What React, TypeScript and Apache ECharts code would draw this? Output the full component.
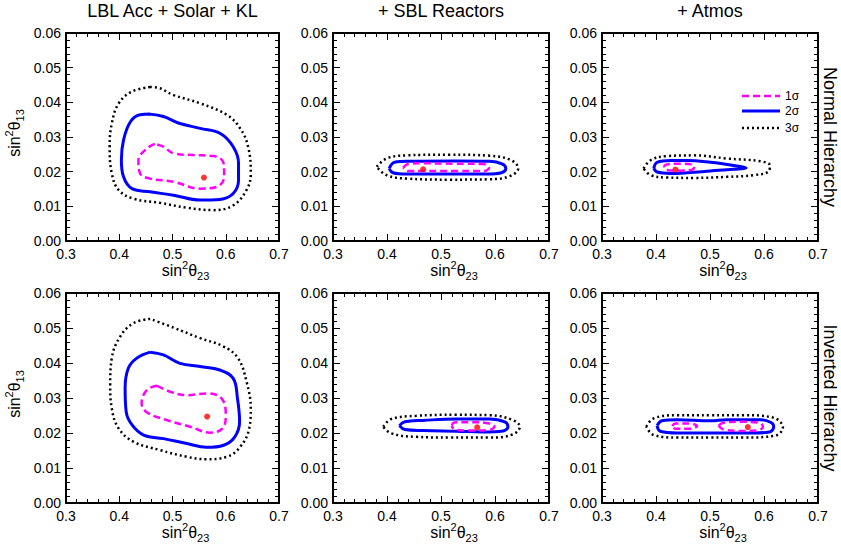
import React, { useEffect, useRef } from "react";
import * as echarts from "echarts";

// ---------- data (sin^2 theta23, sin^2 theta13) ----------
const xTickRange = [0.3, 0.7];
const yTickRange = [0, 0.06];
const panelTitles = ["LBL Acc + Solar + KL", "+ SBL Reactors", "+ Atmos"];
const rowTitles = ["Normal Hierarchy", "Inverted Hierarchy"];
const legendLabels = ["1σ", "2σ", "3σ"];

// Normal hierarchy, LBL Acc + Solar + KL
const nhLbl1s = [[0.467,0.0280],[0.452,0.0267],[0.436,0.0233],[0.439,0.0195],[0.458,0.0180],[0.502,0.0171],[0.552,0.0151],[0.583,0.0156],[0.597,0.0185],[0.596,0.0224],[0.577,0.0245],[0.539,0.0248],[0.502,0.0253],[0.483,0.0272]];
const nhLbl2s = [[0.458,0.0366],[0.439,0.0364],[0.421,0.0344],[0.408,0.0291],[0.404,0.0233],[0.408,0.0185],[0.424,0.0151],[0.458,0.0142],[0.502,0.0132],[0.552,0.0118],[0.589,0.0120],[0.614,0.0137],[0.624,0.0176],[0.624,0.0224],[0.614,0.0272],[0.589,0.0311],[0.552,0.0325],[0.514,0.0339],[0.483,0.0359]];
const nhLbl3s = [[0.458,0.0444],[0.424,0.0431],[0.399,0.0397],[0.386,0.0339],[0.382,0.0272],[0.386,0.0195],[0.399,0.0147],[0.427,0.0122],[0.477,0.0110],[0.527,0.0096],[0.577,0.0089],[0.614,0.0103],[0.639,0.0147],[0.647,0.0195],[0.642,0.0272],[0.627,0.0325],[0.602,0.0364],[0.552,0.0397],[0.502,0.0421],[0.470,0.0443]];
const nhLblBest = [[0.559, 0.0183]];

// Normal hierarchy, + SBL Reactors
const nhSbl1s = [[0.430,0.0211],[0.439,0.0222],[0.467,0.0224],[0.528,0.0223],[0.578,0.0222],[0.589,0.0211],[0.581,0.0202],[0.528,0.0202],[0.467,0.0202],[0.439,0.0202]];
const nhSbl2s = [[0.404,0.0209],[0.414,0.0227],[0.442,0.0230],[0.528,0.0231],[0.590,0.0230],[0.614,0.0222],[0.620,0.0209],[0.612,0.0197],[0.585,0.0193],[0.498,0.0193],[0.436,0.0193],[0.411,0.0197]];
const nhSbl3s = [[0.381,0.0214],[0.399,0.0238],[0.436,0.0247],[0.516,0.0249],[0.590,0.0246],[0.630,0.0233],[0.643,0.0209],[0.627,0.0187],[0.590,0.0178],[0.516,0.0177],[0.436,0.0180],[0.399,0.0190]];
const nhSblBest = [[0.467, 0.0207]];

// Normal hierarchy, + Atmos
const nhAtm1s = [[0.414,0.0214],[0.420,0.0221],[0.445,0.0223],[0.466,0.0221],[0.471,0.0214],[0.466,0.0205],[0.445,0.0203],[0.420,0.0205]];
const nhAtm2s = [[0.396,0.0209],[0.402,0.0227],[0.427,0.0232],[0.458,0.0232],[0.501,0.0227],[0.544,0.0218],[0.567,0.0211],[0.544,0.0207],[0.501,0.0202],[0.458,0.0197],[0.427,0.0195],[0.402,0.0199]];
const nhAtm3s = [[0.377,0.0209],[0.390,0.0233],[0.420,0.0245],[0.470,0.0247],[0.531,0.0238],[0.593,0.0230],[0.611,0.0218],[0.608,0.0200],[0.581,0.0190],[0.531,0.0185],[0.470,0.0182],[0.420,0.0183],[0.390,0.0190]];
const nhAtmBest = [[0.436, 0.0206]];

// Inverted hierarchy, LBL Acc + Solar + KL
const ihLbl1s = [[0.471,0.0335],[0.452,0.0323],[0.442,0.0285],[0.452,0.0259],[0.489,0.0237],[0.533,0.0218],[0.571,0.0201],[0.594,0.0213],[0.600,0.0251],[0.592,0.0299],[0.564,0.0313],[0.527,0.0308],[0.496,0.0318]];
const ihLbl2s = [[0.458,0.0431],[0.433,0.0414],[0.417,0.0385],[0.411,0.0328],[0.413,0.0261],[0.424,0.0223],[0.446,0.0194],[0.483,0.0184],[0.527,0.0170],[0.564,0.0159],[0.596,0.0165],[0.617,0.0189],[0.626,0.0232],[0.622,0.0299],[0.614,0.0356],[0.589,0.0380],[0.552,0.0390],[0.514,0.0399],[0.483,0.0423]];
const ihLbl3s = [[0.458,0.0526],[0.427,0.0514],[0.402,0.0476],[0.386,0.0414],[0.383,0.0337],[0.386,0.0270],[0.399,0.0213],[0.427,0.0175],[0.477,0.0151],[0.527,0.0132],[0.564,0.0125],[0.602,0.0132],[0.627,0.0160],[0.644,0.0213],[0.647,0.0270],[0.639,0.0347],[0.623,0.0414],[0.596,0.0447],[0.552,0.0471],[0.502,0.0501]];
const ihLblBest = [[0.565, 0.0247]];

// Inverted hierarchy, + SBL Reactors
const ihSbl1s = [[0.520,0.0221],[0.525,0.0230],[0.559,0.0231],[0.590,0.0227],[0.599,0.0218],[0.590,0.0209],[0.559,0.0207],[0.525,0.0210]];
const ihSbl2s = [[0.423,0.0221],[0.433,0.0232],[0.467,0.0236],[0.528,0.0240],[0.590,0.0240],[0.618,0.0232],[0.624,0.0218],[0.615,0.0206],[0.578,0.0203],[0.528,0.0205],[0.467,0.0207],[0.433,0.0210]];
const ihSbl3s = [[0.393,0.0218],[0.408,0.0240],[0.454,0.0249],[0.528,0.0252],[0.590,0.0251],[0.633,0.0237],[0.646,0.0218],[0.633,0.0196],[0.590,0.0187],[0.516,0.0187],[0.454,0.0189],[0.408,0.0199]];
const ihSblBest = [[0.567, 0.0216]];

// Inverted hierarchy, + Atmos
const ihAtm1sA = [[0.430,0.0220],[0.436,0.0227],[0.464,0.0227],[0.476,0.0220],[0.464,0.0212],[0.436,0.0212]];
const ihAtm1sB = [[0.516,0.0221],[0.525,0.0229],[0.556,0.0232],[0.590,0.0230],[0.598,0.0218],[0.590,0.0208],[0.556,0.0206],[0.525,0.0210]];
const ihAtm2s = [[0.402,0.0221],[0.411,0.0235],[0.439,0.0238],[0.501,0.0235],[0.531,0.0238],[0.593,0.0238],[0.613,0.0230],[0.618,0.0218],[0.610,0.0203],[0.580,0.0200],[0.501,0.0200],[0.439,0.0200],[0.408,0.0205]];
const ihAtm3s = [[0.382,0.0218],[0.396,0.0242],[0.439,0.0251],[0.501,0.0251],[0.562,0.0251],[0.617,0.0244],[0.635,0.0216],[0.620,0.0192],[0.562,0.0187],[0.501,0.0187],[0.439,0.0187],[0.396,0.0194]];
const ihAtmBest = [[0.570, 0.0217]];

const panels = [
  { s1: [nhLbl1s], s2: nhLbl2s, s3: nhLbl3s, best: nhLblBest },
  { s1: [nhSbl1s], s2: nhSbl2s, s3: nhSbl3s, best: nhSblBest },
  { s1: [nhAtm1s], s2: nhAtm2s, s3: nhAtm3s, best: nhAtmBest },
  { s1: [ihLbl1s], s2: ihLbl2s, s3: ihLbl3s, best: ihLblBest },
  { s1: [ihSbl1s], s2: ihSbl2s, s3: ihSbl3s, best: ihSblBest },
  { s1: [ihAtm1sA, ihAtm1sB], s2: ihAtm2s, s3: ihAtm3s, best: ihAtmBest },
];

// ---------- layout / style ----------
const FONT = "'Liberation Sans', Arial, Helvetica, sans-serif";
const GRIDS = [
  { left: 66, top: 33, width: 213, height: 208 },
  { left: 333, top: 33, width: 216, height: 208 },
  { left: 602, top: 33, width: 216, height: 208 },
  { left: 66, top: 293, width: 213, height: 210 },
  { left: 333, top: 293, width: 216, height: 210 },
  { left: 602, top: 293, width: 216, height: 210 },
];
const MAGENTA = "#ff00ff";
const BLUE = "#0000ff";
const BLACK = "#000000";
const dashStyle = { color: MAGENTA, width: 2.5, type: [7, 4] as any };
const solidStyle = { color: BLUE, width: 3, type: "solid" as any };
const dotStyle = { color: BLACK, width: 2.5, type: [2, 3] as any };

const close = (pts: number[][]) => pts.concat([pts[0]]);

function buildOption() {
  const xAxes: any[] = [];
  const yAxes: any[] = [];
  const series: any[] = [];
  const tickCommon = {
    axisLine: { show: true, onZero: false, lineStyle: { color: BLACK, width: 2 } },
    axisTick: { show: true, inside: true, length: 7, lineStyle: { color: BLACK, width: 1 } },
    minorTick: { show: true, splitNumber: 5, length: 4, lineStyle: { color: BLACK, width: 1 } },
    splitLine: { show: false },
    minorSplitLine: { show: false },
  };
  GRIDS.forEach((_, i) => {
    const xb = {
      type: "value", gridIndex: i, min: xTickRange[0], max: xTickRange[1], interval: 0.1,
      position: "bottom", ...tickCommon,
      axisLabel: { show: true, color: BLACK, fontSize: 14, fontFamily: FONT, margin: 6,
        formatter: (v: number) => v.toFixed(1) },
    };
    const xt = { ...xb, position: "top", axisLabel: { show: false } };
    const yl = {
      type: "value", gridIndex: i, min: yTickRange[0], max: yTickRange[1], interval: 0.01,
      position: "left", ...tickCommon,
      axisLabel: { show: true, color: BLACK, fontSize: 14, fontFamily: FONT, margin: 5,
        formatter: (v: number) => v.toFixed(2) },
    };
    const yr = { ...yl, position: "right", axisLabel: { show: false } };
    xAxes.push(xb, xt);
    yAxes.push(yl, yr);
    const xi = 2 * i, yi = 2 * i;
    const p = panels[i];
    const base = { type: "line", xAxisIndex: xi, yAxisIndex: yi, symbol: "none", smooth: 0.4, silent: true };
    series.push({ ...base, name: "3σ", data: close(p.s3), lineStyle: dotStyle, z: 3 });
    series.push({ ...base, name: "2σ", data: close(p.s2), lineStyle: solidStyle, z: 4 });
    p.s1.forEach((c) => series.push({ ...base, name: "1σ", data: close(c), lineStyle: dashStyle, z: 5 }));
    series.push({
      type: "scatter", xAxisIndex: xi, yAxisIndex: yi, data: p.best, symbol: "circle",
      symbolSize: 6, itemStyle: { color: "#ff0000" }, silent: true, z: 6,
    });
  });

  const rich = {
    a: { fontSize: 16, fontFamily: FONT, color: BLACK, lineHeight: 22, verticalAlign: "middle" },
    b: { fontSize: 11, fontFamily: FONT, color: BLACK, lineHeight: 11, verticalAlign: "top" },
    c: { fontSize: 11, fontFamily: FONT, color: BLACK, lineHeight: 11, verticalAlign: "bottom" },
  };
  const graphics: any[] = [];
  // column titles
  [0, 1, 2].forEach((c) => {
    const g = GRIDS[c];
    graphics.push({
      type: "text", x: g.left + g.width / 2, y: 11,
      style: { text: panelTitles[c], font: `18px ${FONT}`, fill: BLACK, textAlign: "center", textVerticalAlign: "middle" },
    });
  });
  // x axis titles
  GRIDS.forEach((g) => {
    graphics.push({
      type: "text", x: g.left + g.width / 2 + 13, y: g.top + g.height + 29,
      style: { text: "{a|sin}{b|2}{a|θ}{c|23}", rich, textAlign: "center", textVerticalAlign: "middle" },
    });
  });
  // y axis titles
  [0, 3].forEach((i) => {
    const g = GRIDS[i];
    graphics.push({
      type: "text", x: 14, y: g.top + g.height / 2 - 4, rotation: Math.PI / 2,
      style: { text: "{a|sin}{b|2}{a|θ}{c|13}", rich, textAlign: "center", textVerticalAlign: "middle" },
    });
  });
  // row titles
  [0, 3].forEach((i, r) => {
    const g = GRIDS[i];
    graphics.push({
      type: "text", x: 830, y: g.top + g.height / 2, rotation: -Math.PI / 2,
      style: { text: rowTitles[r], font: `18px ${FONT}`, fill: BLACK, textAlign: "center", textVerticalAlign: "middle" },
    });
  });
  // legend in panel 3
  const legendStyles = [
    { stroke: MAGENTA, lineWidth: 2.5, lineDash: [7, 4] },
    { stroke: BLUE, lineWidth: 3 },
    { stroke: BLACK, lineWidth: 2.5, lineDash: [2, 3] },
  ];
  const legendY = [96, 111, 128];
  legendLabels.forEach((lab, k) => {
    graphics.push({
      type: "line", shape: { x1: 742, y1: legendY[k], x2: 780, y2: legendY[k] },
      style: { ...legendStyles[k], fill: null },
    });
    graphics.push({
      type: "text", x: 785, y: legendY[k],
      style: { text: lab, font: `12px ${FONT}`, fill: BLACK, textAlign: "left", textVerticalAlign: "middle" },
    });
  });

  return {
    animation: false,
    backgroundColor: "#ffffff",
    textStyle: { fontFamily: FONT },
    grid: GRIDS.map((g) => ({ ...g, show: false, containLabel: false })),
    xAxis: xAxes,
    yAxis: yAxes,
    series,
    graphic: graphics,
  };
}

export default function App() {
  const ref = useRef<HTMLDivElement>(null);
  useEffect(() => {
    if (!ref.current) return;
    const chart = echarts.init(ref.current, undefined, { renderer: "svg" });
    chart.setOption(buildOption() as any);
    return () => chart.dispose();
  }, []);
  return (
    <div
      ref={ref}
      style={{ position: "fixed", left: 0, top: 0, width: 841, height: 552, background: "#fff" }}
    />
  );
}
